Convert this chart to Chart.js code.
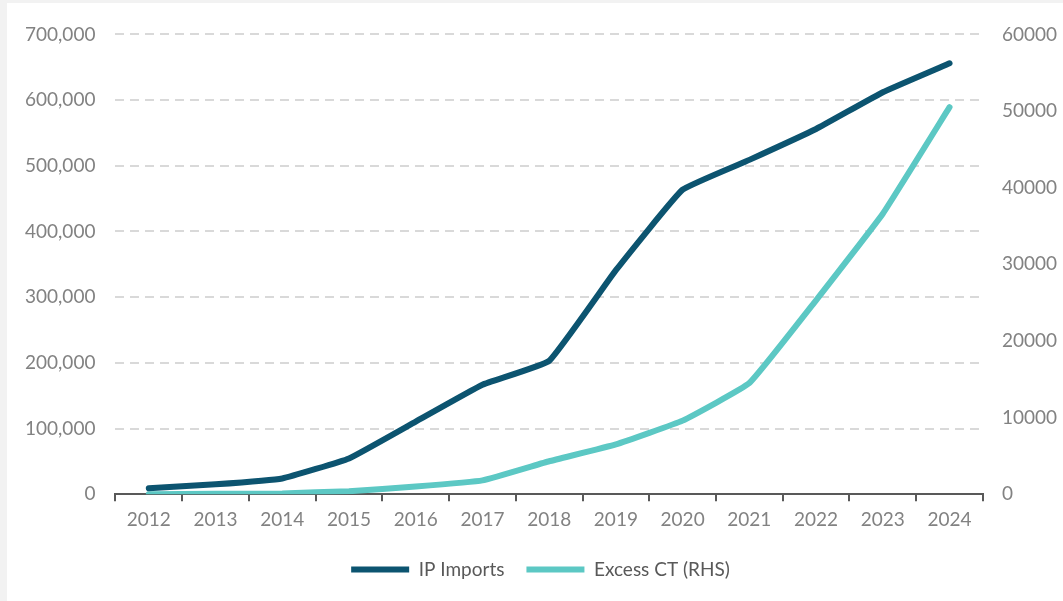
<!DOCTYPE html>
<html>
<head>
<meta charset="utf-8">
<script src="https://cdn.jsdelivr.net/npm/chart.js@4"></script>
<style>
  html, body { margin: 0; padding: 0; background: #f2f2f2; }
  #wrap { position: absolute; left: 7px; top: 3px; width: 1056px; height: 598px; background: #fff; }
</style>
</head>
<body>
<div id="wrap"><canvas id="chart"></canvas></div>
<script>
const years = ["2012", "2013", "2014", "2015", "2016", "2017", "2018", "2019", "2020", "2021", "2022", "2023", "2024"];
const ipImports = [9000, 15000, 24000, 54500, 110600, 166700, 203000, 341000, 463600, 509000, 556000, 612000, 656000];
const excessCT = [0, 50, 100, 400, 1000, 1800, 4300, 6500, 9600, 14500, 25300, 36600, 50500];

const dark = "#0c5470";
const light = "#5cc8c4";
const grey = "#828282";

Chart.defaults.font.family = "Lato, 'Open Sans', sans-serif";
Chart.defaults.font.size = 19;
Chart.defaults.color = grey;

new Chart(document.getElementById("chart"), {
  type: "line",
  data: {
    labels: years,
    datasets: [
      {
        label: "IP Imports",
        data: ipImports,
        borderColor: dark,
        backgroundColor: dark,
        borderWidth: 6,
        borderCapStyle: "round",
        pointRadius: 0,
        tension: 0.1,
        yAxisID: "y",
      },
      {
        label: "Excess CT (RHS)",
        data: excessCT,
        borderColor: light,
        backgroundColor: light,
        borderWidth: 6,
        borderCapStyle: "round",
        pointRadius: 0,
        tension: 0.1,
        yAxisID: "y1",
      },
    ],
  },
  options: {
    responsive: true,
    maintainAspectRatio: false,
    animation: false,
    layout: { padding: { top: 20, right: -13, bottom: 12, left: -2 } },
    scales: {
      x: {
        offset: true,
        grid: {
          offset: true,
          drawOnChartArea: false,
          drawTicks: true,
          tickLength: 7,
          color: "#595959",
          lineWidth: 2,
        },
        border: { display: true, color: "#595959", width: 2 },
        ticks: { color: grey, padding: 7 },
      },
      y: {
        position: "left",
        min: 0,
        max: 700000,
        ticks: { stepSize: 100000, padding: 20, color: grey },
        grid: { color: "#d9d9d9", lineWidth: 2, drawTicks: false },
        border: { display: false, dash: [9, 6] },
      },
      y1: {
        position: "right",
        min: 0,
        max: 60000,
        ticks: {
          stepSize: 10000,
          padding: 19,
          color: grey,
          callback: (v) => String(v),
        },
        grid: { drawOnChartArea: false, drawTicks: false },
        border: { display: false },
      },
    },
    plugins: {
      legend: {
        position: "bottom",
        labels: {
          usePointStyle: true,
          pointStyleWidth: 58,
          pointStyle: "line",
          boxHeight: 6,
          padding: 22,
          color: "#595959",
          font: { size: 19 },
        },
      },
      tooltip: { enabled: false },
    },
  },
});
</script>
</body>
</html>
